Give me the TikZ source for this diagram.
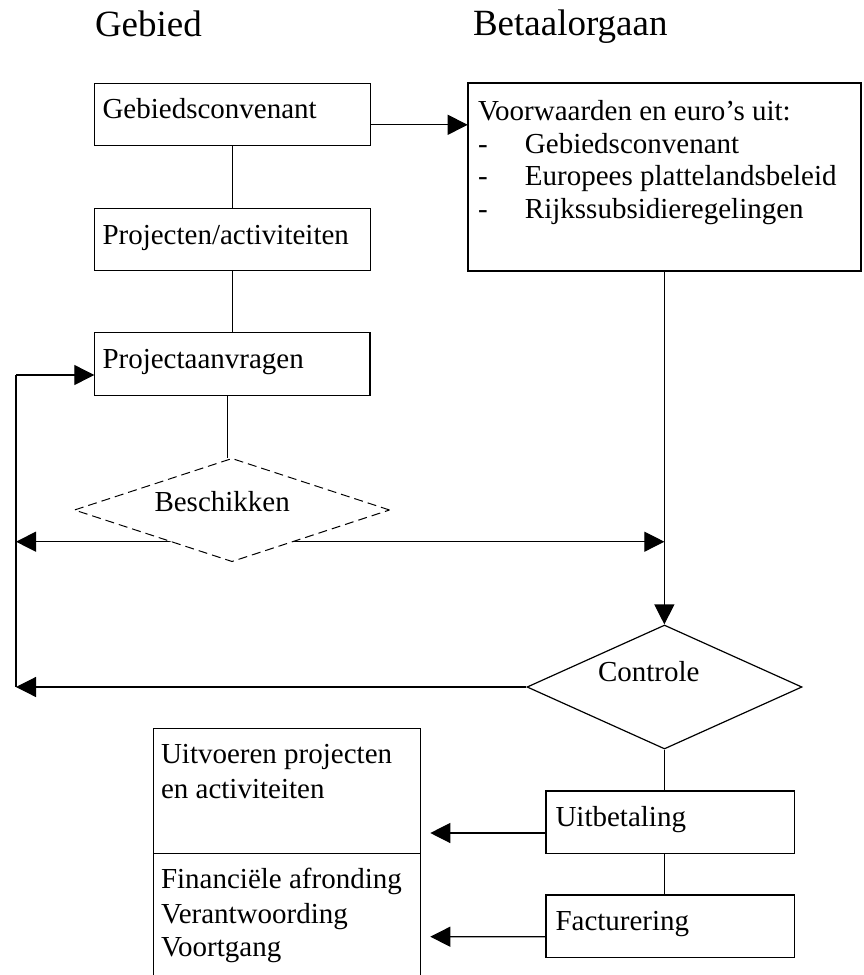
\documentclass[tikz,border=0pt]{standalone}
\usepackage{fontspec}
\setmainfont{Liberation Serif}
\usetikzlibrary{arrows.meta,shapes.geometric}
\begin{document}
\begin{tikzpicture}[x=1pt,y=-1pt,
  box/.style={draw, line width=1pt, inner sep=0pt, outer sep=0pt},
  boxthick/.style={box, line width=1.4pt},
  txt/.style={inner sep=0pt, outer sep=0pt, anchor=base west, font=\fontsize{29}{34}\selectfont},
  titletxt/.style={txt, font=\fontsize{37}{44}\selectfont},
  conn/.style={line width=1.2pt},
  arr/.style={conn, -{Triangle[length=20pt,width=20pt]}},
  darr/.style={conn, {Triangle[length=20pt,width=20pt]}-{Triangle[length=20pt,width=20pt]}},
]
\fill[white] (0,0) rectangle (864,975);
\useasboundingbox (0,0) rectangle (864,975);

% boxes
\node[box, minimum width=275.7pt, minimum height=62.4pt] (gc) at (232.15,114.5) {};
\node[box, minimum width=275.7pt, minimum height=62.4pt] (pa) at (232.15,239.5) {};
\node[boxthick, minimum width=275.7pt, minimum height=62.8pt] (pv) at (232.15,364.1) {};
\node[box, line width=1.8pt, minimum width=393.3pt, minimum height=188pt] (vw) at (664.35,176.7) {};
\node[boxthick, minimum width=248.7pt, minimum height=62.3pt] (uit) at (670.35,822.15) {};
\node[boxthick, minimum width=248.7pt, minimum height=62.7pt] (fac) at (670.35,926.35) {};
\node[box, minimum width=267.4pt, minimum height=125pt] (uv) at (287,790.8) {};
\node[box, minimum width=267.4pt, minimum height=123.2pt] (fin) at (287,914.9) {};

% free ends on the left
\coordinate (L1) at (16,541.7);
\coordinate (L2) at (16,687);
\coordinate (L3) at (16,375);
\coordinate (T1) at (430.3,833);
\coordinate (T2) at (430.3,936.7);

% Controle
\node[diamond, draw, line width=1.2pt, minimum width=275pt, minimum height=124pt, inner sep=0pt] (ctl) at (664.5,687) {};

% connectors
\draw[conn] (gc) -- (pa);
\draw[conn] (pa) -- (pv);
\draw[arr] ([yshift=-10.3pt]gc.east) -- ([yshift=-10.3pt]gc.east -| vw.west);
\draw[arr] (vw.south) -- (vw.south |- ctl.north);
\draw[darr] (L1) -- (L1 -| vw.south);
\draw[arr] (ctl.west) -- (L2);
\draw[conn] (L2) -- (L3);
\draw[arr] (L3) -- (L3 -| pv.west);
\draw[conn] (ctl.south) -- (ctl.south |- uit.north);
\draw[conn] (ctl.south |- uit.south) -- (ctl.south |- fac.north);
\draw[arr] ([yshift=-10.85pt]uit.west) -- (T1);
\draw[arr] ([yshift=-10.35pt]fac.west) -- (T2);

% Beschikken (dashed, white, on top of the double arrow)
\node[diamond, draw, dash pattern=on 9pt off 5pt, line width=1pt, fill=white, minimum width=315.4pt, minimum height=103.4pt, inner sep=0pt] (besch) at (232,510) {};
\draw[conn] ([xshift=-5pt]pv.south) -- ([xshift=-5pt]pv.south |- besch.north);

% texts
\node[titletxt] (t1) at (95,36.7) {Gebied};
\node[titletxt] (t2) at (473,35) {Betaalorgaan};
\node[txt] (gct) at (102.5,118.3) {Gebiedsconvenant};
\node[txt] (pat) at (102.5,244.5) {Projecten/activiteiten};
\node[txt] (pvt) at (102.5,368) {Projectaanvragen};
\node[txt] (vw1) at (478,120) {Voorwaarden en euro’s uit:};
\node[txt] (vw2) at (478,153) {\makebox[47pt][l]{-}Gebiedsconvenant};
\node[txt] (vw3) at (478,185.7) {\makebox[47pt][l]{-}Europees plattelandsbeleid};
\node[txt] (vw4) at (478,218.3) {\makebox[47pt][l]{-}Rijkssubsidieregelingen};
\node[txt] (bt) at (154.5,511.7) {Beschikken};
\node[txt] (ct) at (598,681.7) {Controle};
\node[txt] (ut) at (555.5,826.7) {Uitbetaling};
\node[txt] (ft) at (555.5,930) {Facturering};
\node[txt] (uv1) at (161,763.3) {Uitvoeren projecten};
\node[txt] (uv2) at (161,798.3) {en activiteiten};
\node[txt] (fi1) at (161,888.3) {Financiële afronding};
\node[txt] (fi2) at (161,923.3) {Verantwoording};
\node[txt] (fi3) at (161,956.7) {Voortgang};
\end{tikzpicture}
\end{document}
